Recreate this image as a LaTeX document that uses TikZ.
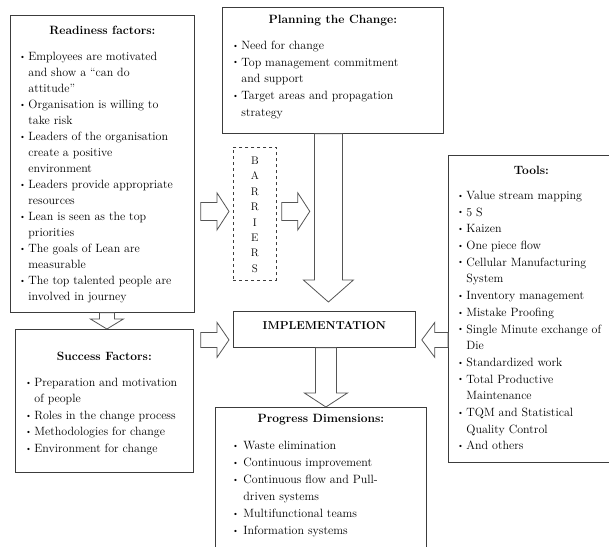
\documentclass[tikz,border=0pt]{standalone}
\usepackage{fontspec}
\usetikzlibrary{calc,positioning}
\definecolor{frame}{RGB}{60,60,60}
\definecolor{arrowline}{RGB}{85,85,85}

% bullet item with hanging indent
\newlength\bulgap
\newcommand\bul{\par\hangindent=\bulgap\hangafter=1\noindent\makebox[\bulgap][l]{\raisebox{0.25ex}{\scalebox{0.7}{\textbullet}}}}
% block arrow: from, to, half shaft, half head, head length
\newcommand\fatarrow[5]{%
  \coordinate (fa-h) at ($(#2)!#5!(#1)$);
  \draw[fat] ($(#1)!#3!90:(#2)$) -- ($(fa-h)!#3!90:(#2)$) -- ($(fa-h)!#4!90:(#2)$)
    -- (#2) -- ($(fa-h)!#4!-90:(#2)$) -- ($(fa-h)!#3!-90:(#2)$)
    -- ($(#1)!#3!-90:(#2)$) -- cycle;}

\begin{document}
\begin{tikzpicture}[x=1pt, y=-1pt,
  panel/.style={draw=frame, line width=0.8pt, fill=white, inner sep=0pt, anchor=north west},
  fat/.style={draw=arrowline, line width=0.8pt, fill=white, line join=miter}
]
\useasboundingbox (0,0) rectangle (609,546);
\clip (0,0) rectangle (609,546);

% Boxes
\node[panel] (ready) at (10,15) {\parbox[t][297pt][t]{184pt}{\fontsize{12}{16}\selectfont\raggedright
  {\centering\bfseries\rule{0pt}{19pt}Readiness factors:\par}
  \vspace{10pt}\leftskip=9pt \setlength\bulgap{9pt}
  \bul Employees are motivated\newline and show a ``can do\newline attitude''
  \bul Organisation is willing to\newline take risk
  \bul Leaders of the organisation\newline create a positive\newline environment
  \bul Leaders provide appropriate\newline resources
  \bul Lean is seen as the top\newline priorities
  \bul The goals of Lean are\newline measurable
  \bul The top talented people are\newline involved in journey\par}};

\node[panel] (plan) at (222,7) {\parbox[t][126pt][t]{221pt}{\fontsize{12}{16.7}\selectfont\raggedright
  {\centering\bfseries\rule{0pt}{16pt}Planning the Change:\par}
  \vspace{9.3pt}\leftskip=10pt \setlength\bulgap{9pt}
  \bul Need for change
  \bul Top management commitment\newline and support
  \bul Target areas and propagation\newline strategy\par}};

\node[panel, dashed] (barr) at (233,147) {\parbox[t][133pt][t]{43pt}{\fontsize{11}{15.4}\selectfont\centering
  \rule{0pt}{17pt}B\\A\\R\\R\\I\\E\\R\\S\par}};

\node[panel] (tools) at (448,155) {\parbox[t][307pt][t]{166pt}{\fontsize{12}{16.7}\selectfont\raggedright
  {\centering\bfseries\rule{0pt}{19pt}Tools:\par}
  \vspace{8.3pt}\leftskip=9pt \setlength\bulgap{9pt}
  \bul Value stream mapping
  \bul 5 S
  \bul Kaizen
  \bul One piece flow
  \bul Cellular Manufacturing\newline System
  \bul Inventory management
  \bul Mistake Proofing
  \bul Single Minute exchange of\newline Die
  \bul Standardized work
  \bul Total Productive\newline Maintenance
  \bul TQM and Statistical\newline Quality Control
  \bul And others\par}};

\node[panel] (succ) at (15,329) {\parbox[t][143pt][t]{178pt}{\fontsize{12}{16.5}\selectfont\raggedright
  {\centering\bfseries\rule{0pt}{31pt}Success Factors:\par}
  \vspace{9.5pt}\leftskip=10pt \setlength\bulgap{9pt}
  \bul Preparation and motivation\newline of people
  \bul Roles in the change process
  \bul Methodologies for change
  \bul Environment for change\par}};

\node[panel] (impl) at (233,311) {\parbox[t][36pt][t]{182pt}{\fontsize{11.5}{14}\selectfont\centering
  \bfseries\rule{0pt}{18pt}IMPLEMENTATION\par}};

\node[panel] (prog) at (215,407) {\parbox[t][150pt][t]{211pt}{\fontsize{12}{17}\selectfont\raggedright
  {\centering\bfseries\rule{0pt}{15pt}Progress Dimensions:\par}
  \vspace{10pt}\leftskip=17pt \setlength\bulgap{11pt}
  \bul Waste elimination
  \bul Continuous improvement
  \bul Continuous flow and Pull-\newline driven systems
  \bul Multifunctional teams
  \bul Information systems\par}};

% Arrows
\coordinate (r2b-s) at ($(ready.east |- barr.west)+(6,-2.5)$);
\coordinate (r2b-e) at ($(barr.west)+(-4,-2.5)$);
\fatarrow{r2b-s}{r2b-e}{9pt}{18.5pt}{12pt}

\coordinate (b2d-s) at ($(barr.east)+(5,-2.5)$);
\coordinate (b2d-e) at ($(barr.east)+(33,-2.5)$);
\fatarrow{b2d-s}{b2d-e}{9pt}{18.5pt}{12pt}

\coordinate (p2i-s) at ($(plan.south)+(-4.5,0)$);
\coordinate (p2i-e) at ($(plan.south |- impl.north)+(-4.5,-9)$);
\fatarrow{p2i-s}{p2i-e}{14pt}{25pt}{22pt}

\coordinate (r2s-s) at ($(ready.south)+(4.5,0)$);
\coordinate (r2s-e) at ($(ready.south |- succ.north)+(4.5,0)$);
\fatarrow{r2s-s}{r2s-e}{7.5pt}{16.5pt}{10pt}

\coordinate (s2i-s) at ($(succ.east |- impl.west)+(7,10.5)$);
\coordinate (s2i-e) at ($(impl.west)+(-4,10.5)$);
\fatarrow{s2i-s}{s2i-e}{7.5pt}{17.5pt}{12pt}

\coordinate (t2i-s) at ($(tools.west |- impl.east)+(0,10.5)$);
\coordinate (t2i-e) at ($(impl.east)+(6,10.5)$);
\fatarrow{t2i-s}{t2i-e}{7.5pt}{17.5pt}{13pt}

\coordinate (i2p-s) at ($(impl.south)+(1.5,0)$);
\coordinate (i2p-e) at ($(impl.south |- prog.north)+(1.5,0)$);
\fatarrow{i2p-s}{i2p-e}{10.5pt}{21.5pt}{14pt}

\end{tikzpicture}
\end{document}
